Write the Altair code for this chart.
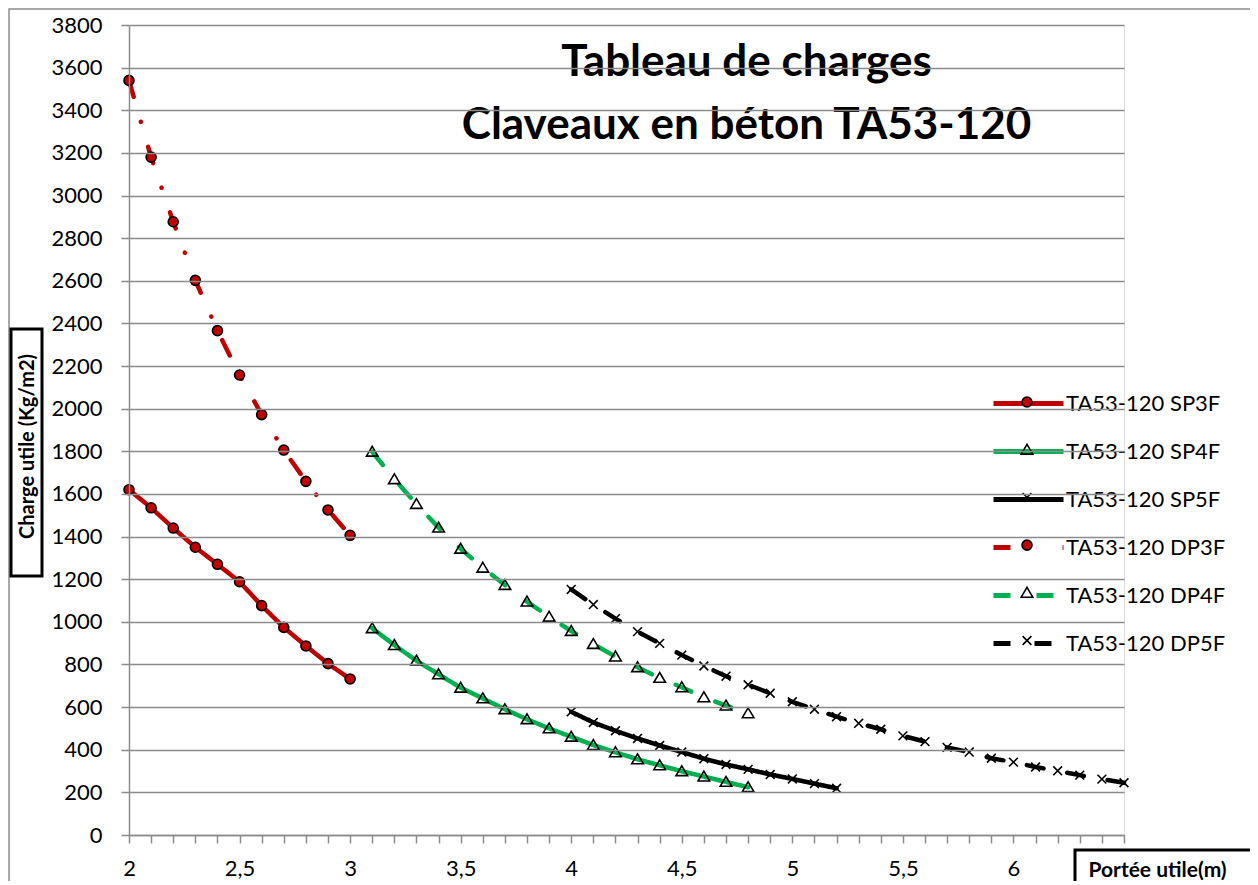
import altair as alt
import pandas as pd

# ---------------- data ----------------
series_names = ["TA53-120 SP3F", "TA53-120 SP4F", "TA53-120 SP5F",
                "TA53-120 DP3F", "TA53-120 DP4F", "TA53-120 DP5F"]
marker_names = ["m SP3F", "m SP4F", "m SP5F", "m DP3F", "m DP4F", "m DP5F"]

x_3f = [2.0, 2.1, 2.2, 2.3, 2.4, 2.5, 2.6, 2.7, 2.8, 2.9, 3.0]
y_sp3f = [1620, 1535, 1440, 1350, 1270, 1188, 1076, 974, 887, 804, 732]
y_dp3f = [3540, 3180, 2877, 2602, 2366, 2158, 1972, 1806, 1659, 1525, 1406]

x_4f = [3.1, 3.2, 3.3, 3.4, 3.5, 3.6, 3.7, 3.8, 3.9, 4.0, 4.1, 4.2, 4.3, 4.4,
        4.5, 4.6, 4.7, 4.8]
y_sp4f = [970, 891, 818, 754, 691, 641, 590, 543, 500, 461, 422, 388, 355, 327,
          299, 274, 249, 224]
y_dp4f = [1798, 1669, 1553, 1442, 1343, 1254, 1173, 1095, 1024, 957, 896, 837,
          787, 737, 693, 646, 607, 571]

x_sp5f = [4.0, 4.1, 4.2, 4.3, 4.4, 4.5, 4.6, 4.7, 4.8, 4.9, 5.0, 5.1, 5.2]
y_sp5f = [578, 528, 489, 453, 420, 389, 358, 331, 308, 284, 263, 241, 219]

x_dp5f = [4.0, 4.1, 4.2, 4.3, 4.4, 4.5, 4.6, 4.7, 4.8, 4.9, 5.0, 5.1, 5.2, 5.3,
          5.4, 5.5, 5.6, 5.7, 5.8, 5.9, 6.0, 6.1, 6.2, 6.3, 6.4, 6.5]
y_dp5f = [1152, 1081, 1015, 954, 899, 844, 793, 745, 705, 665, 625, 590, 555,
          524, 496, 465, 438, 411, 389, 360, 342, 319, 301, 281, 262, 245]

x_tick_values = [round(2.0 + 0.1 * i, 1) for i in range(46)]
y_tick_values = [0, 200, 400, 600, 800, 1000, 1200, 1400, 1600, 1800, 2000,
                 2200, 2400, 2600, 2800, 3000, 3200, 3400, 3600, 3800]

title_lines = ["Tableau de charges", "Claveaux en béton TA53-120"]
x_title = "Portée utile(m)"
y_title = "Charge utile (Kg/m2)"

# ---------------- table ----------------
rows = []
for name, mk, xs, ys in [
    (series_names[0], marker_names[0], x_3f, y_sp3f),
    (series_names[1], marker_names[1], x_4f, y_sp4f),
    (series_names[2], marker_names[2], x_sp5f, y_sp5f),
    (series_names[3], marker_names[3], x_3f, y_dp3f),
    (series_names[4], marker_names[4], x_4f, y_dp4f),
    (series_names[5], marker_names[5], x_dp5f, y_dp5f),
]:
    for xv, yv in zip(xs, ys):
        rows.append({"portee": xv, "charge": yv, "serie": name, "marqueur": mk})
df = pd.DataFrame(rows)

# ---------------- styles ----------------
RED, GREEN, BLACK = "#C00000", "#00B050", "#000000"
GRID = "#8c8c8c"
FONT = "Lato"
S = 1600  # symbol size shared by legend and points (paths scaled by sqrt(S)/2)

circle_path = "M-0.25,0A0.25,0.25,0,1,1,0.25,0A0.25,0.25,0,1,1,-0.25,0Z"
tri_path = "M0,-0.27L0.29,0.22L-0.29,0.22Z"
x_path = "M-0.22,-0.22L0.22,0.22M-0.22,0.22L0.22,-0.22"
line_path = "M-1.75,0L1.75,0"

LEG_X, LEG_Y = 877, 356
leg_common = dict(orient="none", legendX=LEG_X, legendY=LEG_Y, title=None,
                  symbolSize=S, padding=0, labelOffset=15,
                  labelFont=FONT, labelFontSize=22, labelLimit=400)

legend_lines = alt.Legend(symbolType=line_path, symbolStrokeWidth=5,
                          labelColor="black", rowPadding=14, **leg_common)
legend_marks = alt.Legend(symbolStrokeWidth=1.6, labelExpr="''",
                          rowPadding=15.7, **leg_common)

x_enc = alt.X("portee:Q",
              scale=alt.Scale(domain=[2, 6.5], nice=False, zero=False),
              axis=alt.Axis(values=x_tick_values, grid=False, zindex=1,
                            labelExpr="datum.value > 6.45 ? '' : (abs(datum.value*2 - round(datum.value*2)) < 0.01 ? replace(format(datum.value, '~g'), '.', ',') : '')",
                            tickSize=8, tickColor=GRID, tickWidth=1.5,
                            domainColor=GRID, domainWidth=1.5,
                            labelFont=FONT, labelFontSize=22, labelColor="black",
                            labelPadding=15, labelFlush=False, labelOverlap=False,
                            title=x_title, titleFont=FONT, titleFontSize=21,
                            titleFontWeight="bold", titleColor="black",
                            titleX=959, titleY=41, titleAlign="left",
                            titleBaseline="alphabetic"))
y_enc = alt.Y("charge:Q",
              scale=alt.Scale(domain=[0, 3800], nice=False),
              axis=alt.Axis(values=y_tick_values, grid=True, gridColor=GRID,
                            gridWidth=1.5, zindex=1, format="d",
                            tickSize=8, tickColor=GRID, tickWidth=1.5,
                            domainColor=GRID, domainWidth=1.5,
                            labelFont=FONT, labelFontSize=22, labelColor="black",
                            labelPadding=19, labelFlush=False,
                            title=y_title, titleFont=FONT, titleFontSize=20,
                            titleFontWeight="bold", titleColor="black",
                            titleX=-101.5, titleY=421, titleAngle=270,
                            titleAlign="center", titleBaseline="middle"))

base = alt.Chart(df)

lines = base.mark_line(strokeWidth=4.5, strokeCap="round", strokeJoin="round").encode(
    x=x_enc, y=y_enc,
    color=alt.Color("serie:N",
                    scale=alt.Scale(domain=series_names,
                                    range=[RED, GREEN, BLACK, RED, GREEN, BLACK]),
                    legend=legend_lines),
    strokeDash=alt.StrokeDash("serie:N",
                              scale=alt.Scale(domain=series_names,
                                              range=[[1, 0], [1, 0], [1, 0],
                                                     [17, 26, 0.1, 26],
                                                     [17, 26], [17, 24]]),
                              legend=legend_lines),
    order=alt.Order("portee:Q"),
)

points = base.mark_point(filled=True, strokeWidth=1.6, size=S, opacity=1).encode(
    x=x_enc, y=y_enc,
    shape=alt.Shape("marqueur:N",
                    scale=alt.Scale(domain=marker_names,
                                    range=[circle_path, tri_path, x_path,
                                           circle_path, tri_path, x_path]),
                    legend=legend_marks),
    fill=alt.Fill("marqueur:N",
                  scale=alt.Scale(domain=marker_names,
                                  range=[RED, "transparent", "transparent",
                                         RED, "transparent", "transparent"]),
                  legend=legend_marks),
    stroke=alt.Stroke("marqueur:N",
                      scale=alt.Scale(domain=marker_names,
                                      range=[BLACK] * 6),
                      legend=legend_marks),
)

one = pd.DataFrame({"k": [0]})
outer_frame = alt.Chart(one).mark_rect(fill="transparent", stroke=GRID,
                                       strokeWidth=1.5).encode(
    x=alt.value(-120), x2=alt.value(1300), y=alt.value(-16), y2=alt.value(950))
y_title_box = alt.Chart(one).mark_rect(fill="white", stroke="black",
                                       strokeWidth=3).encode(
    x=alt.value(-118), x2=alt.value(-87), y=alt.value(304), y2=alt.value(551))
x_title_box = alt.Chart(one).mark_rect(fill="white", stroke="black",
                                       strokeWidth=3).encode(
    x=alt.value(946), x2=alt.value(1300), y=alt.value(825), y2=alt.value(950))

chart = alt.layer(outer_frame, y_title_box, x_title_box, lines, points).properties(
    width=995, height=810,
    autosize=alt.AutoSizeParams(type="none"),
    padding={"left": 121, "top": 17, "right": 126, "bottom": 46},
    title=alt.TitleParams(text=title_lines, anchor="middle", dx=120, dy=175,
                          offset=0, baseline="alphabetic", font=FONT,
                          fontSize=44, fontWeight="bold", color="black",
                          lineHeight=63, orient="top"),
).configure_view(strokeWidth=0).configure(font=FONT)

chart.save("out.html", embed_options={"renderer": "svg", "actions": False})
